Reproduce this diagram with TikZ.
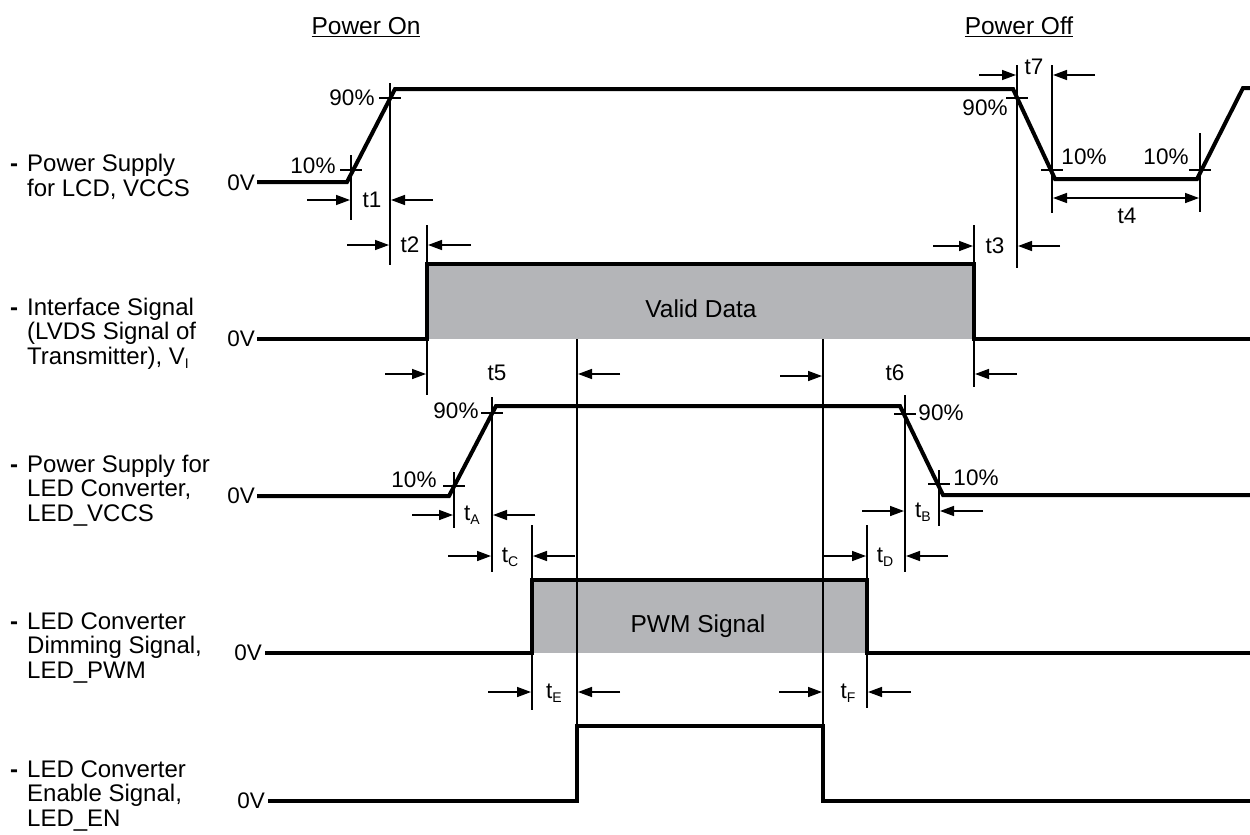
\documentclass[tikz,border=0pt]{standalone}
\usepackage{fontspec}
\setmainfont{Liberation Sans}
\usetikzlibrary{arrows.meta}
\definecolor{boxgray}{RGB}{180,181,184}
\newcommand{\lowsub}[1]{\raisebox{-4pt}{\fontsize{14}{14}\selectfont #1}}
\tikzset{
  sig/.style={line width=4pt, line join=miter},
  thin/.style={line width=1.5pt},
  dim/.style={line width=1.5pt, -{Triangle[length=14pt,width=10pt]}},
  dimboth/.style={line width=1.5pt, {Triangle[length=14pt,width=10pt]}-{Triangle[length=14pt,width=10pt]}},
  lbl/.style={font=\fontsize{22.5}{22.5}\selectfont, inner sep=0pt},
  side/.style={font=\fontsize{24}{24}\selectfont, inner sep=0pt, anchor=base west},
  zero/.style={font=\fontsize{22.5}{22.5}\selectfont, inner sep=0pt, anchor=base east},
  head/.style={font=\fontsize{24.5}{24.5}\selectfont, inner sep=0pt},
  databox/.style={fill=boxgray, draw=none},
}
\begin{document}
\begin{tikzpicture}[x=1pt,y=-1pt]
\useasboundingbox (0,0) rectangle (1250,835);
\fill[white] (0,0) rectangle (1250,835);

% headers
\node[head] (hon) at (366,27) {\underline{Power On}};
\node[head] (hoff) at (1019,27) {\underline{Power Off}};

% left labels
\foreach \y in {171,315,472,629,777} \node[side] at (10,\y) {\textbf{-}};
\node[side] (l1a) at (27,171) {Power Supply};
\node[side] (l1b) at (27,196) {for LCD, VCCS};
\node[side] (l2a) at (27,315) {Interface Signal};
\node[side] (l2b) at (27,339) {(LVDS Signal of};
\node[side] (l2c) at (27,364) {Transmitter), V\lowsub{I}};
\node[side] (l3a) at (27,472) {Power Supply for};
\node[side] (l3b) at (27,496) {LED Converter,};
\node[side] (l3c) at (27,521) {LED\_VCCS};
\node[side] (l4a) at (27,629) {LED Converter};
\node[side] (l4b) at (27,653) {Dimming Signal,};
\node[side] (l4c) at (27,678) {LED\_PWM};
\node[side] (l5a) at (27,777) {LED Converter};
\node[side] (l5b) at (27,801) {Enable Signal,};
\node[side] (l5c) at (27,826) {LED\_EN};

% zero labels
\node[zero] (z1) at (255,190) {0V};
\node[zero] (z2) at (255,346) {0V};
\node[zero] (z3) at (255,503) {0V};
\node[zero] (z4) at (262,660) {0V};
\node[zero] (z5) at (265,808) {0V};

% gray boxes
\fill[databox] (427,264) rectangle (974,339);
\fill[databox] (532,580) rectangle (867,653);
\node[head] (vd) at (701,309) {Valid Data};
\node[head] (pwm) at (698,626) {PWM Signal};

% thin vertical reference lines
\draw[thin] (351,155) -- (351,220);
\draw[thin] (390,83) -- (390,265);
\draw[thin] (427,225) -- (427,395);
\draw[thin] (974,225) -- (974,387);
\draw[thin] (1017,65) -- (1017,268);
\draw[thin] (1052,65) -- (1052,213);
\draw[thin] (1200,133) -- (1200,212);
\draw[thin] (577,339) -- (577,726);
\draw[thin] (823,339) -- (823,726);
\draw[thin] (454,472) -- (454,528);
\draw[thin] (492,397) -- (492,572);
\draw[thin] (905,395) -- (905,572);
\draw[thin] (939,470) -- (939,526);
\draw[thin] (532,525) -- (532,710);
\draw[thin] (867,525) -- (867,708);

% 10% / 90% ticks
\draw[thin] (340,170) -- (362,170);
\draw[thin] (379,98) -- (401,98);
\draw[thin] (1006,98) -- (1028,98);
\draw[thin] (1041,170) -- (1063,170);
\draw[thin] (1189,170) -- (1211,170);
\draw[thin] (481,413) -- (503,413);
\draw[thin] (443,486) -- (465,486);
\draw[thin] (894,414) -- (916,414);
\draw[thin] (928,484) -- (950,484);

% signals
\draw[sig] (257,182) -- (347,182) -- (395,89) -- (1013,89) -- (1055,179) -- (1197,179) -- (1243,88) -- (1250,88);
\draw[sig] (257,339) -- (427,339) -- (427,264) -- (974,264) -- (974,339) -- (1250,339);
\draw[sig] (257,496) -- (449,496) -- (496,406) -- (900,406) -- (943,495) -- (1250,495);
\draw[sig] (265,653) -- (532,653) -- (532,580) -- (867,580) -- (867,653) -- (1250,653);
\draw[sig] (268,801) -- (577,801) -- (577,726) -- (823,726) -- (823,801) -- (1250,801);

% percent labels
\node[lbl] (p1) at (313,166) {10\%};
\node[lbl] (p2) at (352,98) {90\%};
\node[lbl] (p3) at (985,108) {90\%};
\node[lbl] (p4) at (1084,157) {10\%};
\node[lbl] (p5) at (1166,157) {10\%};
\node[lbl] (p6) at (414,480) {10\%};
\node[lbl] (p7) at (456,411) {90\%};
\node[lbl] (p8) at (941,413) {90\%};
\node[lbl] (p9) at (976,478) {10\%};

% dimension arrows and labels
\draw[dim] (307,200) -- (350,200);
\draw[dim] (433,200) -- (391,200);
\node[lbl] (t1) at (372,200) {t1};
\draw[dim] (347,245) -- (389,245);
\draw[dim] (471,245) -- (428,245);
\node[lbl] (t2) at (410,245) {t2};
\draw[dim] (979,75) -- (1016,75);
\draw[dim] (1095,75) -- (1053,75);
\node[lbl] (t7) at (1034,67) {t7};
\draw[dimboth] (1053,198) -- (1199,198);
\node[lbl] (t4) at (1127,216) {t4};
\draw[dim] (933,246) -- (973,246);
\draw[dim] (1060,246) -- (1018,246);
\node[lbl] (t3) at (995,246) {t3};
\draw[dim] (385,374) -- (426,374);
\draw[dim] (620,374) -- (578,374);
\node[lbl] (t5) at (497,373) {t5};
\draw[dim] (780,376) -- (822,376);
\draw[dim] (1017,374) -- (975,374);
\node[lbl] (t6) at (895,373) {t6};
\draw[dim] (412,515) -- (453,515);
\draw[dim] (535,515) -- (493,515);
\node[lbl] (tA) at (472,515) {t\lowsub{A}};
\draw[dim] (862,511) -- (904,511);
\draw[dim] (983,511) -- (940,511);
\node[lbl] (tB) at (923,512) {t\lowsub{B}};
\draw[dim] (448,556) -- (491,556);
\draw[dim] (575,556) -- (533,556);
\node[lbl] (tC) at (510,557) {t\lowsub{C}};
\draw[dim] (823,556) -- (866,556);
\draw[dim] (948,556) -- (906,556);
\node[lbl] (tD) at (885,557) {t\lowsub{D}};
\draw[dim] (488,692) -- (531,692);
\draw[dim] (620,692) -- (578,692);
\node[lbl] (tE) at (554,693) {t\lowsub{E}};
\draw[dim] (779,692) -- (822,692);
\draw[dim] (911,692) -- (868,692);
\node[lbl] (tF) at (848,693) {t\lowsub{F}};
\end{tikzpicture}
\end{document}
